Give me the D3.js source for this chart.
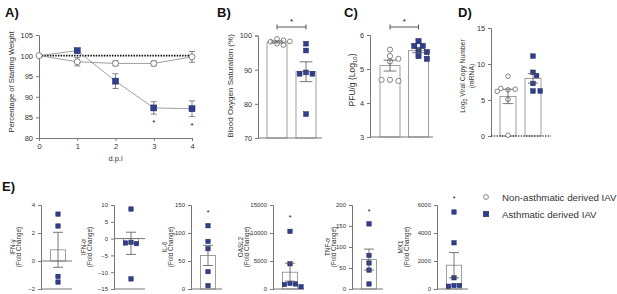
<!DOCTYPE html>
<html>
<head>
<meta charset="utf-8">
<script src="https://cdn.jsdelivr.net/npm/d3@7"></script>
<style>
  body { margin: 0; background: #fff; }
  svg { font-family: Arial, "Liberation Sans", sans-serif; }
</style>
</head>
<body>
<div id="fig"></div>
<script>
// ---- DATA ----
// A) weight loss
const days = [0, 1, 2, 3, 4]
const nonAsthWeight = [100, 98.5, 98.1, 98.1, 99.7]
const nonAsthWeightErr = [0, 1.0, 0.6, 0.6, 1.3]
const asthWeight = [100, 101.2, 93.8, 87.3, 87.1]
const asthWeightErr = [0, 0, 1.8, 1.5, 1.9]
const weightStars = [{day: 3, v: 83.8}, {day: 4, v: 83.1}]

// B) blood oxygen saturation
const oxyNon = [99, 98.6, 98.2, 97.6, 97.2, 98.3]
const oxyAsth = [97.6, 95.6, 89.2, 88.8, 88.8, 77]
const oxyMean = [98.1, 89.4]
const oxySem = [0.3, 2.9]

// C) PFU/g
const pfuNon = [5.57, 5.38, 5.3, 5.22, 4.68, 4.65, 4.68]
const pfuAsth = [5.82, 5.68, 5.68, 5.55, 5.5, 5.38, 5.3]
const pfuMean = [5.1, 5.54]
const pfuSem = [0.16, 0.06]

// D) viral copy number
const copyNon = [8.3, 6.4, 6.5, 6.6, 6.2, 5.1, 0.1]
const copyAsth = [11.1, 8.85, 8.4, 7.3, 6.25, 6.25]
const copyMean = [5.5, 8.0]
const copySem = [1.0, 0.65]

// E) cytokines (asthmatic derived only)
const cytoNames = ["IFN-\u03b3", "IFN-\u03b1", "IL-6", "OASL2", "TNF-\u03b1", "MX1"]
const cytoDomains = [[-2, 4], [-15, 10], [0, 150], [0, 15000], [0, 200], [0, 6000]]
const cytoTicks = [[-2, 0, 2, 4], [-15, -10, -5, 0, 5, 10], [0, 50, 100, 150],
                   [0, 5000, 10000, 15000], [0, 50, 100, 150, 200], [0, 2000, 4000, 6000]]
const cytoPoints = [
  [3.35, 2.5, -1.1, -1.5],
  [8.8, -1.1, -1.5, -1.3, -12],
  [113, 85, 72, 31, 6],
  [10300, 4500, 1000, 900, 800, 400],
  [155, 80, 62, 45, 12],
  [5500, 3300, 800, 250, 250, 200]
]
const cytoMean = [0.8, -1.4, 60, 3000, 70, 1700]
const cytoSem = [1.25, 3.3, 18, 1600, 25, 900]
const cytoStar = [null, null, 138, 12800, 185, 6500]

const legendData = ["Non-asthmatic derived IAV", "Asthmatic derived IAV"]

// ---- STYLE ----
const width = 617, height = 294
const blue = "#2f3e8e", axisCol = "#777", textCol = "#333"

const svg = d3.select("#fig").append("svg")
  .attr("width", width).attr("height", height)

function styleAxis(g, fs) {
  g.select(".domain").attr("stroke", axisCol)
  g.selectAll(".tick line").attr("stroke", axisCol)
  g.selectAll(".tick text").attr("fill", textCol).attr("font-size", fs)
    .attr("font-family", "Arial, 'Liberation Sans', sans-serif")
}

function panelLabel(txt, x, y) {
  svg.append("text").attr("x", x).attr("y", y).text(txt)
    .attr("font-size", 13).attr("font-weight", "bold").attr("fill", "#111")
}

function yLabel(lines, x, y, fs, gap) {
  const t = svg.append("text")
    .attr("transform", `translate(${x},${y}) rotate(-90)`)
    .attr("text-anchor", "middle").attr("font-size", fs).attr("fill", textCol)
  lines.forEach((l, i) => {
    t.append("tspan").attr("x", 0).attr("dy", i == 0 ? 0 : gap).html(l)
  })
}

function square(g, x, y, s) {
  g.append("rect").attr("x", x - s/2).attr("y", y - s/2)
    .attr("width", s).attr("height", s)
    .attr("fill", blue).attr("stroke", "#1c275f").attr("stroke-width", 0.5)
}
function circle(g, x, y, r) {
  g.append("circle").attr("cx", x).attr("cy", y).attr("r", r)
    .attr("fill", "#fff").attr("stroke", "#666").attr("stroke-width", 0.8)
}

// simple beeswarm offsets so points don't overlap
function swarm(vals, yScale, cx, step, minDist) {
  const placed = []
  return vals.map(v => {
    const y = yScale(v)
    let x = cx
    const cands = [0]
    for (let i = 1; i < 8; i++) { cands.push(i * step, -i * step) }
    for (const c of cands) {
      x = cx + c
      if (placed.every(p => Math.hypot(p[0] - x, p[1] - y) >= minDist)) break
    }
    placed.push([x, y])
    return [x, y]
  })
}

// ---- A) ----
panelLabel("A)", 5, 17)
const xA = d3.scaleLinear().domain([0, 4]).range([39, 192])
const yA = d3.scaleLinear().domain([80, 105]).range([138, 35])
const gA = svg.append("g")
gA.append("g").attr("transform", "translate(0,138)")
  .call(d3.axisBottom(xA).tickValues(days).tickSize(3).tickFormat(d3.format("d")))
  .call(g => styleAxis(g, 7.5))
gA.append("g").attr("transform", "translate(39,0)")
  .call(d3.axisLeft(yA).tickValues([80, 85, 90, 95, 100, 105]).tickSize(3))
  .call(g => styleAxis(g, 7.5))
svg.append("text").attr("x", (39 + 192) / 2).attr("y", 161).attr("text-anchor", "middle")
  .attr("font-size", 7.5).attr("fill", textCol).text("d.p.i")
yLabel(["Percentage of Starting Weight"], 14, 82, 7.6, 0)

gA.append("line").attr("x1", xA(0)).attr("x2", xA(4)).attr("y1", yA(100)).attr("y2", yA(100))
  .attr("stroke", "#111").attr("stroke-width", 1.6).attr("stroke-dasharray", "1.5,1.2")

const lineA = d3.line().x((d, i) => xA(days[i])).y(d => yA(d))
function errA(vals, errs) {
  vals.forEach((v, i) => {
    if (!errs[i]) return
    const x = xA(days[i])
    gA.append("path")
      .attr("d", `M${x},${yA(v - errs[i])}V${yA(v + errs[i])}M${x - 3},${yA(v - errs[i])}h6M${x - 3},${yA(v + errs[i])}h6`)
      .attr("stroke", "#666").attr("stroke-width", 0.8).attr("fill", "none")
  })
}
gA.append("path").datum(nonAsthWeight).attr("d", lineA)
  .attr("fill", "none").attr("stroke", "#888").attr("stroke-width", 0.8)
gA.append("path").datum(asthWeight).attr("d", lineA)
  .attr("fill", "none").attr("stroke", "#888").attr("stroke-width", 0.8)
errA(nonAsthWeight, nonAsthWeightErr)
errA(asthWeight, asthWeightErr)
nonAsthWeight.forEach((v, i) => circle(gA, xA(days[i]), yA(v), 3))
asthWeight.forEach((v, i) => { if (i > 0) square(gA, xA(days[i]), yA(v), 6) })
weightStars.forEach(s => {
  gA.append("text").attr("x", xA(s.day)).attr("y", yA(s.v) + 3).attr("text-anchor", "middle")
    .attr("font-size", 8).attr("fill", "#111").text("*")
})

// ---- B, C, D bar panels ----
function barPanel(o) {
  const g = svg.append("g")
  const y = d3.scaleLinear().domain(o.domain).range(o.yRange)
  const x = d3.scalePoint().domain([0, 1]).range(o.centers)
  const bw = o.bw
  g.append("g").attr("transform", `translate(${o.axisX},0)`)
    .call(d3.axisLeft(y).tickValues(o.ticks).tickSize(3).tickFormat(d3.format("d")))
    .call(a => styleAxis(a, 7.3))
  const base = o.domain[0]
  // bars
  o.means.forEach((m, i) => {
    g.append("rect").attr("x", x(i) - bw / 2).attr("y", y(m))
      .attr("width", bw).attr("height", y(base) - y(m))
      .attr("fill", "#fff").attr("stroke", "#888").attr("stroke-width", 0.8)
  })
  // x axis
  const xl = g.append("line").attr("x1", o.axisX).attr("x2", o.axisEnd)
    .attr("y1", y(base)).attr("y2", y(base))
  if (o.dottedBase) {
    xl.attr("stroke", "#111").attr("stroke-width", 1.2).attr("stroke-dasharray", "1.5,1.2")
  } else {
    xl.attr("stroke", axisCol)
  }
  // points
  swarm(o.pts[0], y, x(0), o.step, o.minDist).forEach(p => circle(g, p[0], p[1], o.r))
  swarm(o.pts[1], y, x(1), o.step, o.minDist).forEach(p => square(g, p[0], p[1], o.r * 2))
  // error bars
  o.means.forEach((m, i) => {
    const cx = x(i), c = bw * 0.32
    g.append("path")
      .attr("d", `M${cx},${y(m - o.sems[i])}V${y(m + o.sems[i])}M${cx - c},${y(m - o.sems[i])}h${2 * c}M${cx - c},${y(m + o.sems[i])}h${2 * c}`)
      .attr("stroke", "#555").attr("stroke-width", 0.8).attr("fill", "none")
  })
  if (o.sig) {
    const by = o.sig
    g.append("path").attr("d", `M${x(0)},${by - 2.5}v5M${x(0)},${by}H${x(1)}M${x(1)},${by - 2.5}v5`)
      .attr("stroke", "#444").attr("stroke-width", 0.9).attr("fill", "none")
    g.append("text").attr("x", (x(0) + x(1)) / 2).attr("y", by - 3).attr("text-anchor", "middle")
      .attr("font-size", 8).attr("fill", "#111").text("*")
  }
}

panelLabel("B)", 217, 17)
barPanel({domain: [70, 100], yRange: [138, 35.5], ticks: [70, 80, 90, 100], axisX: 258, axisEnd: 322,
  centers: [277, 306], bw: 20, means: oxyMean, sems: oxySem, pts: [oxyNon, oxyAsth],
  r: 2.4, step: 3.2, minDist: 4.6, sig: 27})
yLabel(["Blood Oxygen Saturation (%)"], 233, 86, 8, 0)

panelLabel("C)", 344, 17)
barPanel({domain: [3, 6], yRange: [137, 35], ticks: [3, 4, 5, 6], axisX: 370, axisEnd: 433,
  centers: [390, 418.5], bw: 20, means: pfuMean, sems: pfuSem, pts: [pfuNon, pfuAsth],
  r: 2.6, step: 4.2, minDist: 5.2, sig: 27})
yLabel(["PFU/g (Log<tspan font-size='6' dy='2'>10</tspan><tspan dy='-2'>)</tspan>"], 355, 80, 8.5, 0)

panelLabel("D)", 458, 17)
barPanel({domain: [0, 15], yRange: [136, 28], ticks: [0, 5, 10, 15], axisX: 491, axisEnd: 551,
  centers: [508, 533], bw: 16, means: copyMean, sems: copySem, pts: [copyNon, copyAsth],
  r: 2.3, step: 3.6, minDist: 4.4, dottedBase: true})
yLabel(["Log<tspan font-size='5' dy='1.5'>2</tspan><tspan dy='-1.5'> Viral  Copy Number</tspan>", "(mRNA)"], 465, 76, 6.8, 8.5)

// ---- E) ----
panelLabel("E)", 2, 191)
const eAxisX = [41, 114, 191, 273, 352, 437]
const eLabelX = [15, 86, 167, 243, 330, 403]
cytoNames.forEach((name, k) => {
  const g = svg.append("g")
  const ax = eAxisX[k]
  const y = d3.scaleLinear().domain(cytoDomains[k]).range([289, 205])
  g.append("g").attr("transform", `translate(${ax},0)`)
    .call(d3.axisLeft(y).tickValues(cytoTicks[k]).tickSize(3).tickFormat(d3.format("d")))
    .call(a => styleAxis(a, 6))
  const cx = ax + 17, bw = 15
  const m = cytoMean[k], s = cytoSem[k]
  g.append("rect").attr("x", cx - bw / 2).attr("y", y(Math.max(m, 0)))
    .attr("width", bw).attr("height", Math.abs(y(m) - y(0)))
    .attr("fill", "#fff").attr("stroke", "#888").attr("stroke-width", 0.8)
  // zero line and bottom line
  g.append("line").attr("x1", ax).attr("x2", ax + 31).attr("y1", y(0)).attr("y2", y(0)).attr("stroke", axisCol)
  if (cytoDomains[k][0] < 0) {
    g.append("line").attr("x1", ax).attr("x2", ax + 31).attr("y1", 289).attr("y2", 289).attr("stroke", axisCol)
  }
  swarm(cytoPoints[k], y, cx, 5.5, 5.2).forEach(p => square(g, p[0], p[1], 4.4))
  const c = 5
  g.append("path")
    .attr("d", `M${cx},${y(m - s)}V${y(m + s)}M${cx - c},${y(m - s)}h${2 * c}M${cx - c},${y(m + s)}h${2 * c}`)
    .attr("stroke", "#555").attr("stroke-width", 0.8).attr("fill", "none")
  if (cytoStar[k] != null) {
    g.append("text").attr("x", cx).attr("y", y(cytoStar[k]) + 3).attr("text-anchor", "middle")
      .attr("font-size", 7).attr("fill", "#111").text("*")
  }
  yLabel([name, "(Fold  Change)"], eLabelX[k], 247, 6.3, 5.8)
})

// legend
const legend = svg.append("g")
legendData.forEach((d, i) => {
  const ly = 197 + i * 17
  if (i == 0) circle(legend, 486, ly, 2.4)
  else square(legend, 486, ly, 5.5)
  legend.append("text").attr("x", 502).attr("y", ly + 3.5).text(d)
    .attr("font-size", 9.7).attr("fill", textCol)
})
</script>
</body>
</html>
